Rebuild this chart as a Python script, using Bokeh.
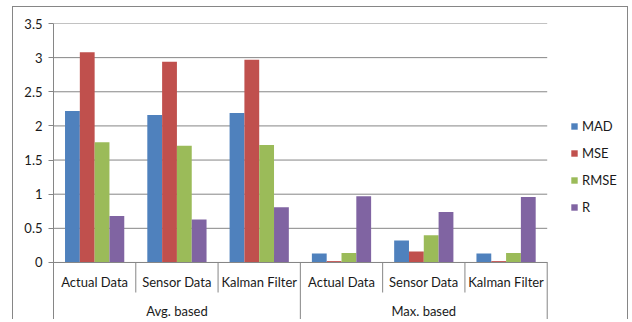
from bokeh.plotting import figure
from bokeh.models import (FactorRange, Range1d, FixedTicker, NumeralTickFormatter, Legend,
                          LegendItem, CategoricalAxis, ColumnDataSource)
from bokeh.transform import dodge
from bokeh.embed import file_html
from bokeh.resources import INLINE

groups = ["Avg. based", "Max. based"]
categories = ["Actual Data", "Sensor Data", "Kalman Filter"]
series_names = ["MAD", "MSE", "RMSE", "R"]
mad = [2.22, 2.16, 2.19, 0.13, 0.32, 0.13]
mse = [3.08, 2.94, 2.97, 0.02, 0.16, 0.02]
rmse = [1.76, 1.71, 1.72, 0.14, 0.40, 0.14]
r_vals = [0.68, 0.63, 0.81, 0.97, 0.74, 0.96]
colors = ["#4F81BD", "#C0504D", "#9BBB59", "#8064A2"]
y_ticks = [0, 0.5, 1, 1.5, 2, 2.5, 3, 3.5]

FONT = "Lato"
FS = "13px"
TXT = "#1a1a1a"
GRID = "#868686"
EDGE = "1px solid #868686"

factors = [(g, c) for g in groups for c in categories]
n = len(factors)
k = len(categories)
src = ColumnDataSource(dict(x=factors, MAD=mad, MSE=mse, RMSE=rmse, R=r_vals))

# an empty slot on the right holds the legend area
x_range = FactorRange(*(factors + [("", "")]), factor_padding=0, group_padding=0,
                      subgroup_padding=0, range_padding=0)
y_bottom = -0.85
p = figure(width=616, height=313, x_range=x_range, y_range=Range1d(y_bottom, 3.5),
           output_backend="svg", toolbar_location=None, x_axis_location=None,
           min_border_left=40, min_border_right=0, min_border_top=16, min_border_bottom=0,
           margin=(6, 0, 0, 12),
           styles={"border-top": EDGE, "border-left": EDGE, "border-right": EDGE})
p.outline_line_color = None
p.xgrid.visible = False
p.ygrid.visible = False
p.background_fill_color = "white"
p.border_fill_color = "white"

# y axis
ya = p.yaxis[0]
ya.ticker = FixedTicker(ticks=y_ticks)
ya.formatter = NumeralTickFormatter(format="0.[0]")
ya.axis_line_color = GRID
ya.major_tick_line_color = GRID
ya.major_tick_out = 5
ya.major_tick_in = 0
ya.minor_tick_line_color = None
ya.major_label_standoff = 6
ya.major_label_text_font = FONT
ya.major_label_text_font_size = FS
ya.major_label_text_color = TXT

# horizontal gridlines over the plot area only
p.segment(x0=[0] * len(y_ticks), y0=y_ticks, x1=[n] * len(y_ticks), y1=y_ticks,
          line_color=GRID, line_width=1)

# bars
offsets = [-0.27, -0.09, 0.09, 0.27]
renderers = []
for name, col, off in zip(series_names, colors, offsets):
    rr = p.vbar(x=dodge("x", off, range=p.x_range), top=name, width=0.18, source=src,
                fill_color=col, line_color=None)
    renderers.append(rr)

# category separators
inner = [i for i in range(1, n) if i % k != 0]
outer = [i for i in range(k, n + 1, k)]
p.segment(x0=inner, y0=[0] * len(inner), x1=inner, y1=[-0.44] * len(inner),
          line_color=GRID, line_width=1)
p.segment(x0=outer, y0=[0] * len(outer), x1=outer, y1=[y_bottom] * len(outer),
          line_color=GRID, line_width=1)

# category axis at y=0
xa = CategoricalAxis(fixed_location=0, bounds=(0, n))
xa.axis_line_color = GRID
xa.major_tick_line_color = None
xa.minor_tick_line_color = None
xa.major_label_standoff = 6
xa.major_label_text_font = FONT
xa.major_label_text_font_size = FS
xa.major_label_text_color = TXT
xa.group_text_color = None
xa.separator_line_color = None
p.add_layout(xa, "below")

# group labels
ga = CategoricalAxis(fixed_location=0, bounds=(0, n))
ga.axis_line_color = None
ga.major_tick_line_color = None
ga.minor_tick_line_color = None
ga.major_label_standoff = 35
ga.major_label_text_font = FONT
ga.major_label_text_font_size = FS
ga.major_label_text_color = None
ga.group_text_font = FONT
ga.group_text_font_size = FS
ga.group_text_color = TXT
ga.group_text_font_style = "normal"
ga.separator_line_color = None
p.add_layout(ga, "below")

legend = Legend(items=[LegendItem(label=nm, renderers=[rr]) for nm, rr in zip(series_names, renderers)],
                location=(517, 105), orientation="vertical")
legend.border_line_color = None
legend.background_fill_alpha = 0
legend.padding = 0
legend.margin = 0
legend.glyph_width = 8
legend.glyph_height = 8
legend.label_height = 12
legend.spacing = 11
legend.label_standoff = 4
legend.label_text_font = FONT
legend.label_text_font_size = FS
legend.label_text_color = TXT
p.add_layout(legend)

open("out.html", "w").write(file_html(p, INLINE))
